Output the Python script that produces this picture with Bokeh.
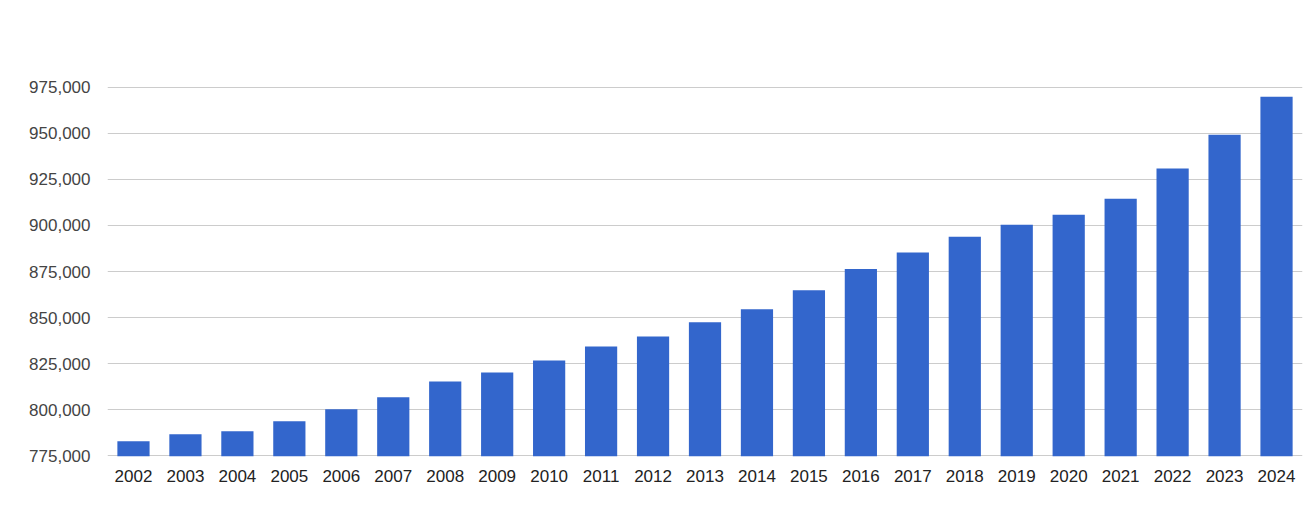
from bokeh.plotting import figure
from bokeh.models import FactorRange, Range1d, FixedTicker, NumeralTickFormatter, ColumnDataSource
from bokeh.embed import file_html
from bokeh.resources import INLINE

years = [str(y) for y in range(2002, 2025)]
values = [783000, 786700, 788400, 793800, 800300, 806800, 815400, 820300, 826800,
          834400, 839800, 847500, 854500, 864900, 876300, 885300, 893900, 900400,
          905800, 914500, 930800, 949200, 969800]
y_ticks = [775000, 800000, 825000, 850000, 875000, 900000, 925000, 950000, 975000]

source = ColumnDataSource(dict(year=years, value=values))

p = figure(width=1305, height=510, output_backend="svg", toolbar_location=None,
           x_range=FactorRange(factors=years, range_padding=0),
           y_range=Range1d(y_ticks[0] - 300, y_ticks[-1] + 300))
p.min_border_left = 107
p.min_border_right = 3
p.min_border_top = 86
p.min_border_bottom = 54
p.outline_line_color = None
p.background_fill_color = "white"
p.border_fill_color = "white"

p.vbar(x="year", top="value", bottom=0, width=0.62, source=source,
       fill_color="#3366cc", line_color=None)

p.xgrid.grid_line_color = None
p.ygrid.grid_line_color = "#cccccc"
p.ygrid.grid_line_width = 1

p.yaxis.ticker = FixedTicker(ticks=y_ticks)
p.yaxis.formatter = NumeralTickFormatter(format="0,0")
for ax in (p.xaxis[0], p.yaxis[0]):
    ax.axis_line_color = None
    ax.major_tick_line_color = None
    ax.minor_tick_line_color = None
    ax.major_tick_out = 0
    ax.major_tick_in = 0
    ax.minor_tick_out = 0
    ax.minor_tick_in = 0
    ax.major_label_text_font = "Liberation Sans"
    ax.major_label_text_font_size = "17px"
p.yaxis.major_label_text_color = "#444444"
p.xaxis.major_label_text_color = "#222222"
p.yaxis.major_label_standoff = 17
p.xaxis.major_label_standoff = 13

open("out.html", "w").write(file_html(p, INLINE))
